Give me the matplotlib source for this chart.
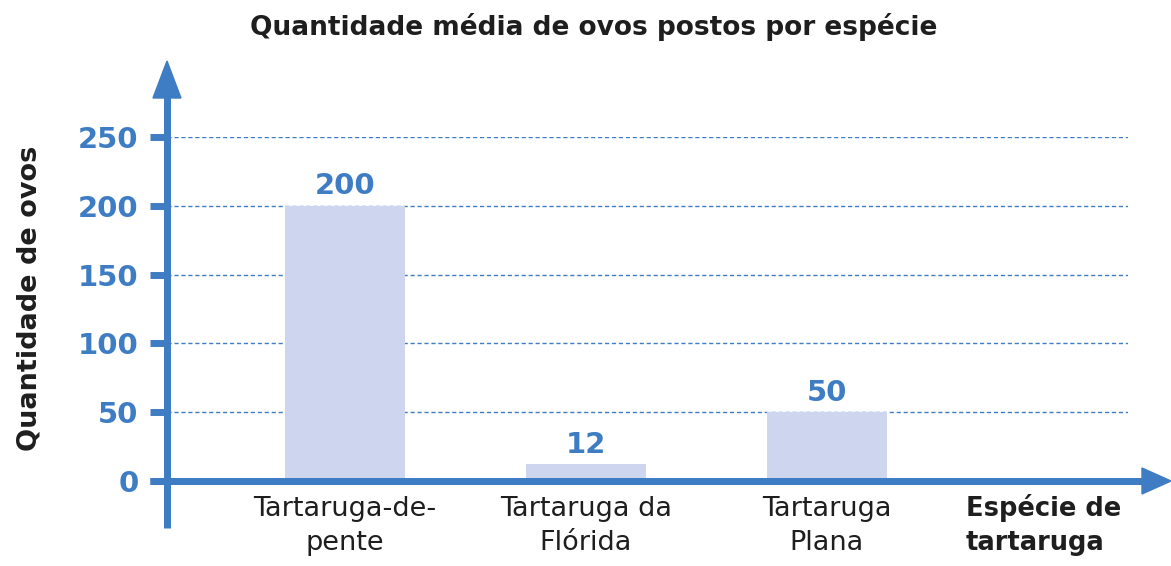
import matplotlib
matplotlib.use('Agg')
import matplotlib.pyplot as plt
from matplotlib.patches import Polygon

# Average eggs laid per species
species = ['Tartaruga-de-\npente', 'Tartaruga da\nFlórida', 'Tartaruga\nPlana']
eggs = [200, 12, 50]
y_ticks = [0, 50, 100, 150, 200, 250]

BLUE = '#3E7DC4'
BAR = '#CED6EF'
DARK = '#1E1E1E'

plt.rcParams['font.family'] = ['DejaVu Sans']

W, H = 1171, 566
fig = plt.figure(figsize=(W / 100, H / 100), dpi=100)


def fx(x):
    return x / W


def fy(y):
    return 1 - y / H


# plot area: x from 167 to 1128 px, zero line at 481 px, 250 at 137 px
ax = fig.add_axes([fx(167), fy(481), fx(1128) - fx(167), fy(137) - fy(481)])
ax.set_xlim(-0.739, 3.25)
ax.set_ylim(0, 250)

ax.bar(range(len(species)), eggs, width=0.5, color=BAR, zorder=2)
for i, v in enumerate(eggs):
    ax.annotate(str(v), (i, v), xytext=(0, 4), textcoords='offset points',
                ha='center', va='bottom', fontsize=21, fontweight='bold',
                color=BLUE, zorder=4)

for s in ax.spines.values():
    s.set_visible(False)

ax.set_yticks(y_ticks)
ax.tick_params(axis='y', length=12.5, width=5, color=BLUE, labelcolor=BLUE,
               labelsize=21, pad=8)
for lbl in ax.get_yticklabels():
    lbl.set_fontweight('bold')
ax.yaxis.grid(True, color=BLUE, linestyle=(0, (3, 2)), linewidth=1.0, zorder=1)
ax.set_axisbelow(True)

ax.set_xticks(range(len(species)))
ax.set_xticklabels(species, fontsize=19.5, color=DARK, linespacing=1.4)
ax.tick_params(axis='x', length=0, pad=11)

# axis lines with arrowheads, drawn in figure pixels
lw = 7 * 72 / 100
fig.add_artist(plt.Line2D([fx(167), fx(167)], [fy(528), fy(96)], color=BLUE,
                          linewidth=lw, transform=fig.transFigure, solid_capstyle='butt'))
fig.add_artist(Polygon([(fx(153), fy(98)), (fx(181), fy(98)), (fx(167), fy(61))],
                       closed=True, color=BLUE, transform=fig.transFigure))
fig.add_artist(plt.Line2D([fx(150), fx(1144)], [fy(481), fy(481)], color=BLUE,
                          linewidth=lw, transform=fig.transFigure, solid_capstyle='butt'))
fig.add_artist(Polygon([(fx(1142), fy(468)), (fx(1142), fy(494)), (fx(1171), fy(481))],
                       closed=True, color=BLUE, transform=fig.transFigure))

fig.text(fx(594), fy(27), 'Quantidade média de ovos postos por espécie',
         ha='center', va='center', fontsize=19, fontweight='bold', color=DARK)
fig.text(fx(30), fy(298), 'Quantidade de ovos', rotation=90,
         ha='center', va='center', fontsize=19.5, fontweight='bold', color=DARK)
fig.text(fx(966), fy(494), 'Espécie de\ntartaruga', ha='left', va='top',
         fontsize=18.5, fontweight='bold', color=DARK, linespacing=1.4)

fig.savefig('out.png', dpi=100)
